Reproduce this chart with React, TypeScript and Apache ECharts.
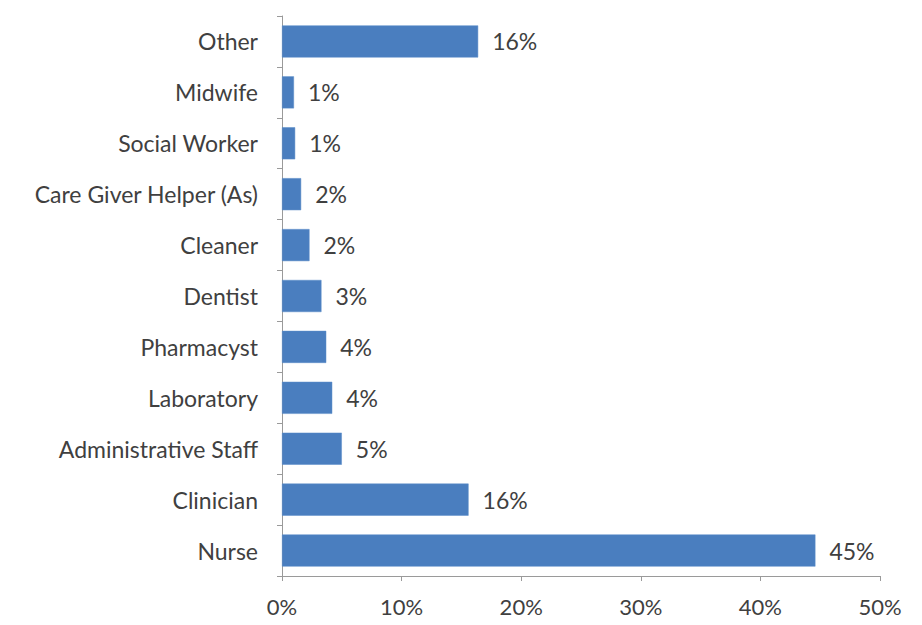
import React, { useEffect, useRef } from "react";
import * as echarts from "echarts";

const categories = [
  "Nurse",
  "Clinician",
  "Administrative Staff",
  "Laboratory",
  "Pharmacyst",
  "Dentist",
  "Cleaner",
  "Care Giver Helper (As)",
  "Social Worker",
  "Midwife",
  "Other",
];
const values = [44.6, 15.6, 5.0, 4.2, 3.7, 3.3, 2.3, 1.6, 1.1, 1.0, 16.4];
const valueLabels = ["45%", "16%", "5%", "4%", "4%", "3%", "2%", "2%", "1%", "1%", "16%"];
const xTicks = [0, 10, 20, 30, 40, 50];

const FONT = "Lato, 'Open Sans', sans-serif";
const TEXT = "#404040";

export default function App() {
  const ref = useRef<HTMLDivElement>(null);
  useEffect(() => {
    if (!ref.current) return;
    const chart = echarts.init(ref.current, null, { renderer: "svg" });
    chart.setOption({
      animation: false,
      backgroundColor: "#ffffff",
      grid: { left: 282, right: 42, top: 16, bottom: 49 },
      xAxis: {
        type: "value",
        min: xTicks[0],
        max: xTicks[xTicks.length - 1],
        interval: 10,
        axisLine: { show: true, lineStyle: { color: "#9a9a9a", width: 1 } },
        axisTick: { show: true, length: 5, lineStyle: { color: "#9a9a9a" } },
        splitLine: { show: false },
        axisLabel: {
          formatter: (v: number) => `${v}%`,
          color: TEXT,
          fontFamily: FONT,
          fontSize: 22,
          margin: 19,
        },
      },
      yAxis: {
        type: "category",
        data: categories,
        axisLine: { show: true, lineStyle: { color: "#9a9a9a", width: 1 } },
        axisTick: { show: true, length: 5, alignWithLabel: false, lineStyle: { color: "#9a9a9a" } },
        axisLabel: {
          color: TEXT,
          fontFamily: FONT,
          fontSize: 23,
          margin: 24,
        },
      },
      series: [
        {
          type: "bar",
          data: values,
          barCategoryGap: "37%",
          itemStyle: { color: "#4A7EBF", borderColor: "#5B8CC8", borderWidth: 0.5 },
          label: {
            show: true,
            position: "right",
            distance: 14,
            color: TEXT,
            fontFamily: FONT,
            fontSize: 23,
            formatter: (p: any) => valueLabels[p.dataIndex],
          },
        },
      ],
    });
    return () => chart.dispose();
  }, []);
  return <div ref={ref} style={{ width: 922, height: 625, position: "absolute", left: 0, top: 0 }} />;
}
